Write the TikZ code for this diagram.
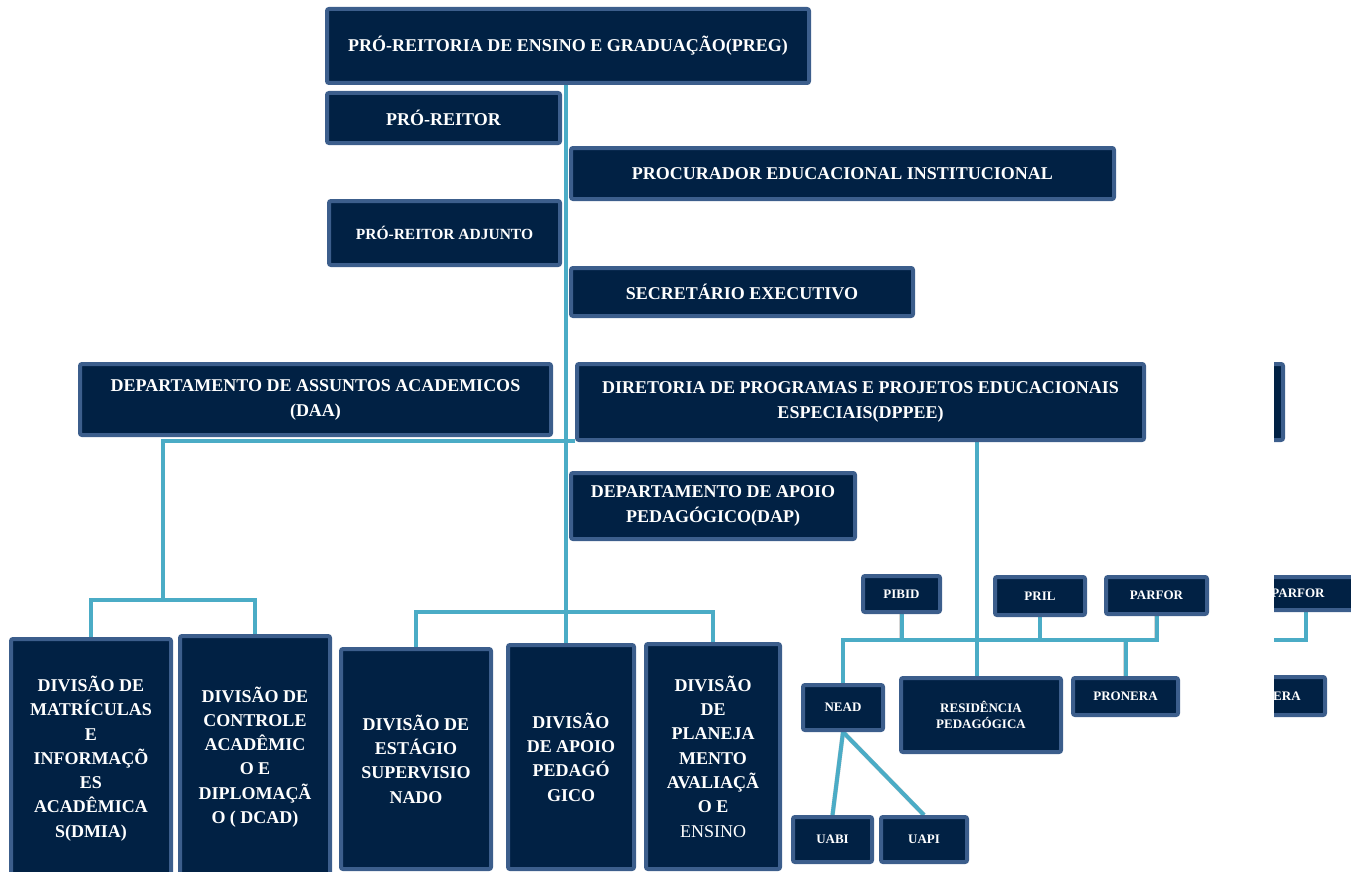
\documentclass[tikz,border=0pt]{standalone}
\usepackage{fontspec}
\setmainfont{Liberation Serif}
\definecolor{boxfill}{HTML}{012144}
\definecolor{boxline}{HTML}{3C5E8C}
\definecolor{conn}{HTML}{4BACC6}
\pgfdeclarelayer{bg}
\pgfsetlayers{bg,main}
\begin{document}
\begin{tikzpicture}[x=1pt,y=-1pt,
 orgbox/.style={draw=boxline, fill=boxfill, line width=4pt, rounded corners=2pt, text=white,
   font=\bfseries\fontsize{18}{25}\selectfont, align=center, inner sep=0pt},
 smallbox/.style={orgbox, font=\bfseries\fontsize{13}{16}\selectfont},
 divbox/.style={orgbox, font=\bfseries\fontsize{18}{24.3}\selectfont},
 shadowline/.style={draw=black!16, line width=4.5pt, line join=miter},
 link/.style={draw=conn, line width=4pt, line join=miter},
]
\useasboundingbox (0,0) rectangle (1351,872);

% ---- top column
\node[orgbox, minimum width=482, minimum height=74] (preg) at (568,46) {PRÓ-REITORIA DE ENSINO E GRADUAÇÃO(PREG)};
\node[orgbox, minimum width=233, minimum height=50] (pr) at (443.5,118) {PRÓ-REITOR};
\node[orgbox, minimum width=543, minimum height=51] (proc) at (842.5,173.5) {PROCURADOR EDUCACIONAL INSTITUCIONAL};
\node[orgbox, font=\bfseries\fontsize{15.5}{18}\selectfont, minimum width=231, minimum height=64] (adj) at (444.5,233) {PRÓ-REITOR ADJUNTO};
\node[orgbox, minimum width=342, minimum height=48] (sec) at (742,292) {SECRETÁRIO EXECUTIVO};

% ---- departments
\node[orgbox, minimum width=471, minimum height=71] (daa) at (315.5,399.5) {DEPARTAMENTO DE ASSUNTOS ACADEMICOS\\(DAA)};
\node[orgbox, minimum width=567, minimum height=76] (dppee) at (860.5,402) {DIRETORIA DE PROGRAMAS E PROJETOS EDUCACIONAIS\\ESPECIAIS(DPPEE)};
\node[orgbox, minimum width=284, minimum height=66] (dap) at (713,506) {DEPARTAMENTO DE APOIO\\PEDAGÓGICO(DAP)};

% ---- divisions
\node[divbox, minimum width=160, minimum height=239] (dmia) at (91,758.5) {DIVISÃO DE\\MATRÍCULAS\\E\\INFORMAÇÕ\\ES\\ACADÊMICA\\S(DMIA)};
\node[divbox, minimum width=150, minimum height=242] (dcad) at (255,757) {DIVISÃO DE\\CONTROLE\\ACADÊMIC\\O E\\DIPLOMAÇÃ\\O ( DCAD)};
\node[divbox, minimum width=150, minimum height=220] (est) at (416,759) {DIVISÃO DE\\ESTÁGIO\\SUPERVISIO\\NADO};
\node[divbox, minimum width=126, minimum height=224] (apo) at (571,757) {DIVISÃO\\DE APOIO\\PEDAGÓ\\GICO};
\node[divbox, minimum width=134, minimum height=225] (plan) at (713,756.5) {DIVISÃO\\DE\\PLANEJA\\MENTO\\AVALIAÇÃ\\O E\\\textmd{ENSINO}};

% ---- programmes
\node[smallbox, minimum width=77, minimum height=36] (pibid) at (901.5,594) {PIBID};
\node[smallbox, minimum width=90, minimum height=38] (pril) at (1040,596) {PRIL};
\node[smallbox, minimum width=101, minimum height=37] (parfor) at (1156.5,595.5) {PARFOR};
\node[smallbox, minimum width=80, minimum height=45] (nead) at (843,707.5) {NEAD};
\node[smallbox, minimum width=160, minimum height=74] (res) at (981,715) {RESIDÊNCIA\\PEDAGÓGICA};
\node[smallbox, minimum width=105, minimum height=37] (pron) at (1125.5,696.5) {PRONERA};
\node[smallbox, minimum width=79, minimum height=45] (uabi) at (832.5,839.5) {UABI};
\node[smallbox, minimum width=86, minimum height=45] (uapi) at (924,839.5) {UAPI};

% ---- clipped copies at the right edge
\begin{scope}
\clip (1274,0) rectangle (1351,872);
\node[orgbox, minimum width=81, minimum height=76] (dppee2) at (1242.5,402) {};
\node[smallbox, minimum width=120, minimum height=33] (parfor2) at (1298,593.5) {PARFOR};
\node[smallbox, minimum width=113, minimum height=38] (pron2) at (1268.5,696) {PRONERA};
\end{scope}

% ---- connectors
\coordinate (tk) at (566,0);
\coordinate (b1) at (163,441);
\coordinate (b2) at (163,600);
\coordinate (b3) at (566,612);
\coordinate (dx) at (977,0);
\coordinate (b4) at (977,640);
\coordinate (cutL) at (1274,640);
\coordinate (p2c) at (1306,0);

\begin{pgfonlayer}{bg}
\foreach \sty/\dx/\dy in {shadowline/1.5/3, link/0/0}{
\begin{scope}[shift={(\dx,\dy)}]
\draw[\sty] (tk |- preg.south) -- (tk |- apo.north);
\draw[\sty] (b1 -| dppee.west) -- (b1) -- (b2);
\draw[\sty] (dmia.north) |- (b2) -| (dcad.north);
\draw[\sty] (est.north) |- (b3) -| (plan.north);
\draw[\sty] (dx |- dppee.south) -- (dx |- res.north);
\draw[\sty] (nead.north) |- (b4) -| (parfor.south);
\draw[\sty] (pibid.south) -- (pibid.south |- b4);
\draw[\sty] (pril.south) -- (pril.south |- b4);
\draw[\sty] (pron.north) -- (pron.north |- b4);
\draw[\sty] (p2c |- parfor2.south) |- (cutL);
\draw[\sty] (nead.south) -- (uabi.north);
\draw[\sty] (nead.south) -- (uapi.north);
\end{scope}
}
\end{pgfonlayer}
\end{tikzpicture}
\end{document}
